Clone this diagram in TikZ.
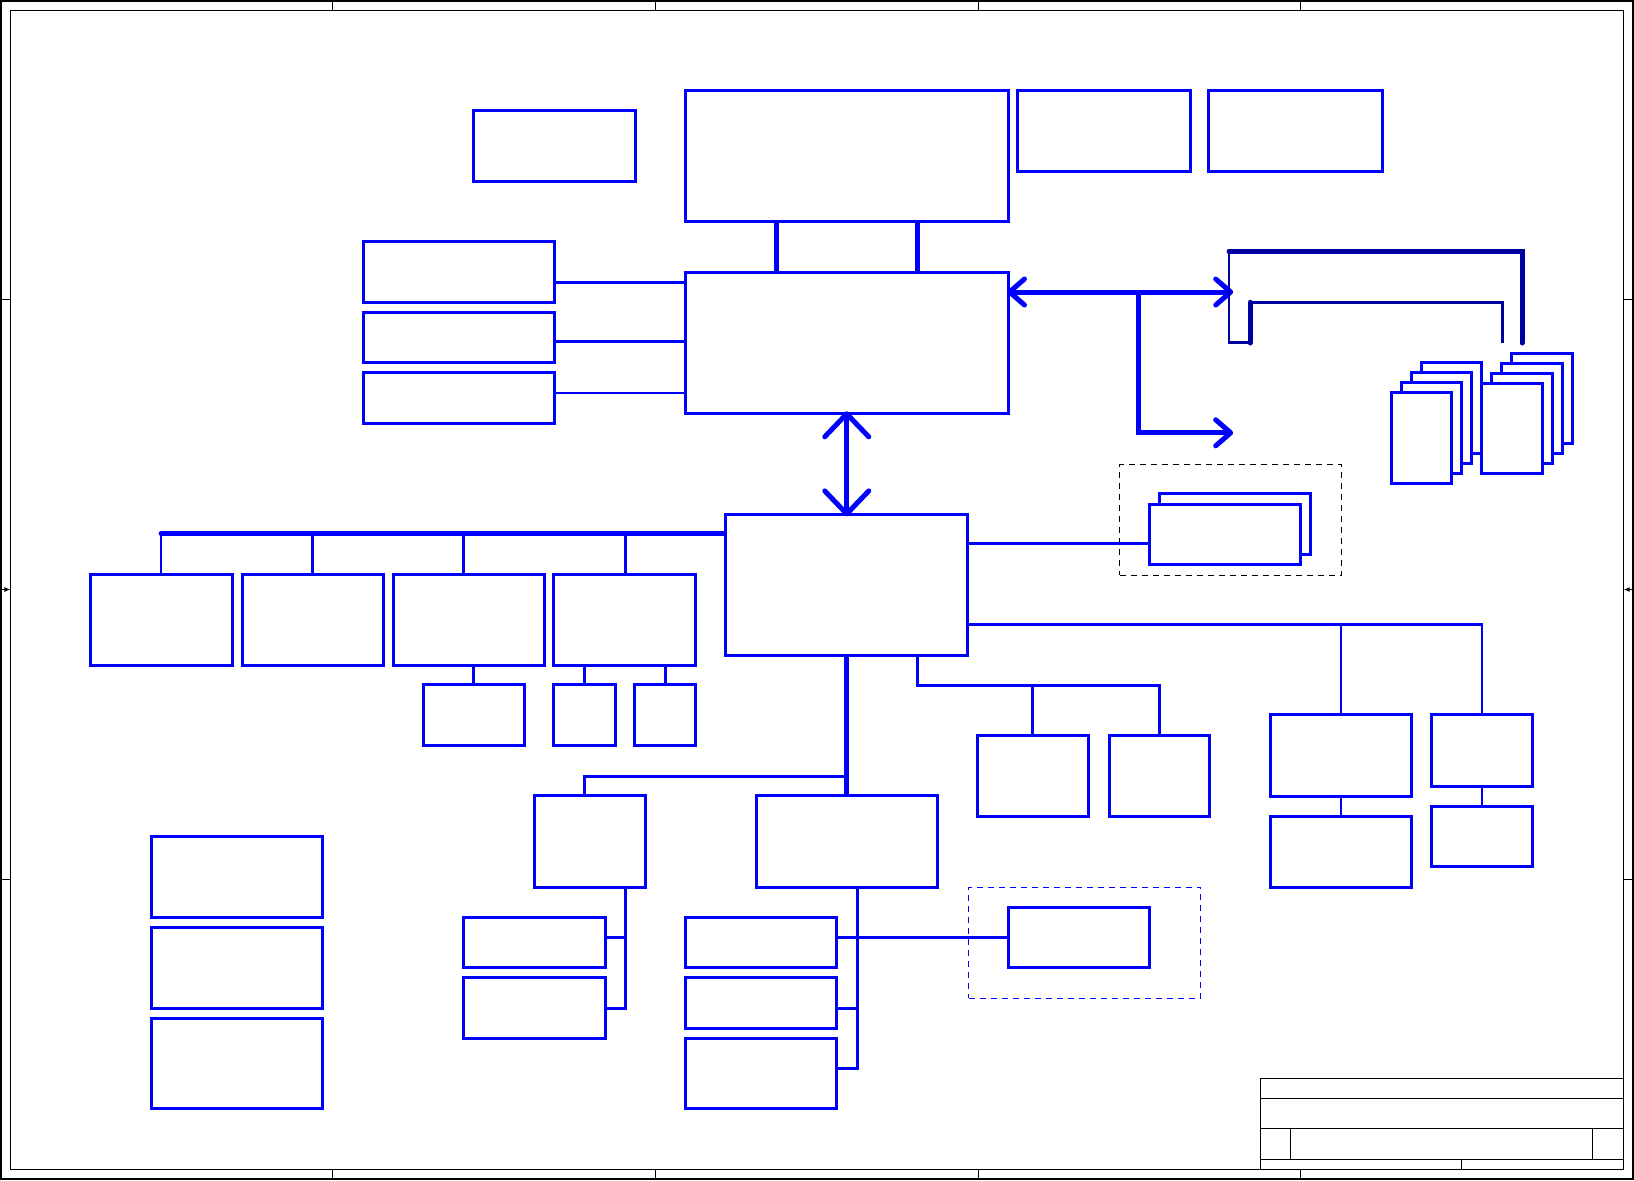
\documentclass[tikz,border=0pt]{standalone}
\usepackage{tikz}
\usetikzlibrary{arrows.meta,positioning,fit}
\definecolor{schblue}{RGB}{0,0,255}
\definecolor{schnavy}{RGB}{0,0,160}

\begin{document}
\begin{tikzpicture}[x=0.2mm, y=-0.2mm, >={Straight Barb[length=3mm,width=5.2mm,round]},
  blk/.style={draw=schblue, line width=0.6mm, fill=white, inner sep=0pt},
  grpk/.style={draw=black, line width=0.2mm, dash pattern=on 1.2mm off 1mm, inner sep=0pt},
  grpb/.style={draw=schblue, line width=0.2mm, dash pattern=on 1.2mm off 1mm, inner sep=0pt},
  wire/.style={draw=schblue, line width=0.55mm},
  bus/.style={draw=schblue, line width=1mm},
  navy/.style={draw=schnavy, line width=0.55mm},
  navybus/.style={draw=schnavy, line width=1mm, line cap=round},
  frame/.style={draw=black, line width=0.25mm}]
  \useasboundingbox (0,0) rectangle (1634,1180);

  % sheet frame
  \draw[frame] (1,1) rectangle (1633,1179);
  \draw[frame] (10.5,10.3) rectangle (1623.7,1169.4);
  \foreach \x in {332.6,655.3,978.4,1300.8} {
    \draw[frame] (\x,1) -- (\x,10.3);
    \draw[frame] (\x,1169.4) -- (\x,1179);
  }
  \foreach \y in {299.7,879.7} {
    \draw[frame] (1,\y) -- (10.5,\y);
    \draw[frame] (1623.7,\y) -- (1633,\y);
  }
  \draw[frame, -{Latex[length=1.2mm,width=1mm]}] (1,589.5) -- (10.5,589.5);
  \draw[frame, -{Latex[length=1.2mm,width=1mm]}] (1633,589.5) -- (1623.7,589.5);

  % title block
  \draw[frame] (1260.7,1169.4) |- (1623.7,1078.3);
  \draw[frame] (1260.7,1098.3) -- (1623.7,1098.3);
  \draw[frame] (1260.7,1128.7) -- (1623.7,1128.7);
  \draw[frame] (1260.7,1159.3) -- (1623.7,1159.3);
  \draw[frame] (1290.3,1128.7) -- (1290.3,1159.3);
  \draw[frame] (1592.7,1128.7) -- (1592.7,1159.3);
  \draw[frame] (1461.3,1159.3) -- (1461.3,1169.4);

  % top row
  \node[blk, fit={(473.3,110.6) (635.5,181)}] (clk) {};
  \node[blk, fit={(685,90.3) (1008.5,221.2)}] (cpu) {};
  \node[blk, fit={(1017.8,90.3) (1190.2,171.8)}] (thm) {};
  \node[blk, fit={(1208.9,90.3) (1382.3,171.8)}] (fan) {};

  % north bridge and video
  \node[blk, fit={(685,272.5) (1008.5,413.3)}] (nb) {};
  \node[blk, fit={(363.5,241.1) (554.4,302.3)}] (lcd) {};
  \node[blk, fit={(363.5,312.3) (554.4,362)}] (crt) {};
  \node[blk, fit={(363.5,372) (554.4,423.7)}] (tvo) {};

  % memory modules
  \foreach \i in {3,2,1,0}
    \node[blk, fit={(1391.7+10*\i,392.7-10*\i) (1451.7+10*\i,483.7-10*\i)}] (dimA\i) {};
  \foreach \i in {3,2,1,0}
    \node[blk, fit={(1481.7+10*\i,383.3-10*\i) (1542.7+10*\i,473.3-10*\i)}] (dimB\i) {};

  % south bridge
  \node[blk, fit={(725,514.4) (967.5,655.4)}] (sb) {};

  % pci devices
  \node[blk, fit={(90.5,574) (232.2,665.3)}] (pci1) {};
  \node[blk, fit={(242.2,574) (383.4,665.3)}] (pci2) {};
  \node[blk, fit={(393.3,574) (544.5,665.3)}] (pci3) {};
  \node[blk, fit={(553.9,574) (695.6,665.3)}] (pci4) {};
  \node[blk, fit={(423.1,684.9) (524.6,745.3)}] (sub1) {};
  \node[blk, fit={(553.9,684.9) (615.6,745.3)}] (sub2) {};
  \node[blk, fit={(634.9,684.9) (695.6,745.3)}] (sub3) {};

  % usb ports
  \node[grpk, fit={(1119.6,464.6) (1341.3,575.2)}] (usbgrp) {};
  \node[blk, fit={(1159,493.3) (1310.7,554.1)}] (usbb) {};
  \node[blk, fit={(1149.7,504.4) (1300.8,564.1)}] (usbf) {};

  % drives
  \node[blk, fit={(1270.7,714.7) (1411.4,796.6)}] (r1) {};
  \node[blk, fit={(1270.7,816.5) (1411.4,887.7)}] (r2) {};
  \node[blk, fit={(1431.6,714.7) (1532.4,786.7)}] (r3) {};
  \node[blk, fit={(1431.6,806.2) (1532.4,866.6)}] (r4) {};

  % audio
  \node[blk, fit={(977.3,735) (1088.4,816.5)}] (au1) {};
  \node[blk, fit={(1109.2,735) (1209.4,816.5)}] (au2) {};

  % lpc side
  \node[blk, fit={(534.5,795.8) (645.4,887.7)}] (sio) {};
  \node[blk, fit={(756.8,795.8) (937.9,887.7)}] (ec) {};
  \node[blk, fit={(463.4,917.2) (605.6,967.7)}] (sio1) {};
  \node[blk, fit={(463.4,977.2) (605.6,1038.1)}] (sio2) {};
  \node[blk, fit={(685.1,917.2) (836.6,967.7)}] (ec1) {};
  \node[blk, fit={(685.1,977.2) (836.6,1028.5)}] (ec2) {};
  \node[blk, fit={(685.1,1038.1) (836.6,1108.5)}] (ec3) {};
  \node[grpb, fit={(968.5,887.3) (1200.6,998.3)}] (tpgrp) {};
  \node[blk, fit={(1008,907.2) (1149.7,967.7)}] (tp) {};

  % power
  \node[blk, fit={(151.7,836) (322.7,917.5)}] (pw1) {};
  \node[blk, fit={(151.7,927.1) (322.7,1008.6)}] (pw2) {};
  \node[blk, fit={(151.7,1018.2) (322.7,1108.5)}] (pw3) {};

  % connections
  \draw[bus] (cpu.south -| 776.2,0) -- (nb.north -| 776.2,0);
  \draw[bus] (cpu.south -| 917.6,0) -- (nb.north -| 917.6,0);
  \draw[wire] (lcd.east |- 0,282.4) -- (nb.west |- 0,282.4);
  \draw[wire] (crt.east |- 0,341.7) -- (nb.west |- 0,341.7);
  \draw[wire] (tvo.east |- 0,393) -- (nb.west |- 0,393);

  \coordinate (dimm) at (1231.7,292);
  \coordinate (agp) at (1231.7,432.8);
  \draw[bus, <->, shorten <=-0.6mm, shorten >=-0.3mm] (nb.east |- dimm) -- (dimm);
  \draw[bus, ->, shorten >=-0.3mm] (dimm -| 1138.8,0) |- (agp);
  \draw[bus, <->, shorten <=-0.7mm, shorten >=-0.7mm,
    >={Straight Barb[length=4.6mm,width=8.8mm,round]}] (nb.south) -- (nb.south |- sb.north);

  \coordinate (brk) at (1229,342.5);
  \draw[navy] (1250,342.5) -- (brk) -- (1229,251.4);
  \draw[navybus] (1229,251.4) -- (1522,251.4) -- (1522,343);
  \draw[navybus] (1250,302.3) -- (1250,343);
  \draw[navy] (1250,302.3) -- (1502.3,302.3) -- (1502.3,342.5);

  \coordinate (pci) at (161.1,533.5);
  \draw[bus, line cap=round] (pci) -- (sb.west |- pci);
  \foreach \n/\x in {pci1/161.1, pci2/312.2, pci3/463.4, pci4/625.5}
    \draw[wire] (\x,533.5) -- (\n.north -| \x,0);
  \draw[wire] (sub1.north) -- (sub1.north |- pci3.south);
  \draw[wire] (sub2.north) -- (sub2.north |- pci4.south);
  \draw[wire] (sub3.north) -- (sub3.north |- pci4.south);

  \draw[wire] (sb.east |- 0,543.8) -- (usbf.west |- 0,543.8);
  \draw[wire] (sb.east |- 0,624.4) -| (r3.north);
  \draw[wire] (r1.north |- 0,624.4) -- (r1.north);
  \draw[wire] (r1.south) -- (r2.north);
  \draw[wire] (r3.south) -- (r4.north);

  \draw[wire] (sb.south -| 917.6,0) |- (au2.north |- 0,685.2) -- (au2.north);
  \draw[wire] (au1.north |- 0,685.2) -- (au1.north);

  \draw[bus] (sb.south) -- (sb.south |- ec.north);
  \draw[wire] (sb.south |- 0,776.3) -| (sio.north -| 584.2,0);
  \draw[wire] (sio.south -| 625.5,0) |- (sio2.east |- 0,1008.6);
  \draw[wire] (sio1.east |- 0,937.4) -- (625.5,937.4);
  \draw[wire] (ec.south -| 857.4,0) |- (ec3.east |- 0,1068.7);
  \draw[wire] (ec2.east |- 0,1008.6) -- (857.4,1008.6);
  \draw[wire] (ec1.east |- tp.west) -- (tp.west);
\end{tikzpicture}
\end{document}
